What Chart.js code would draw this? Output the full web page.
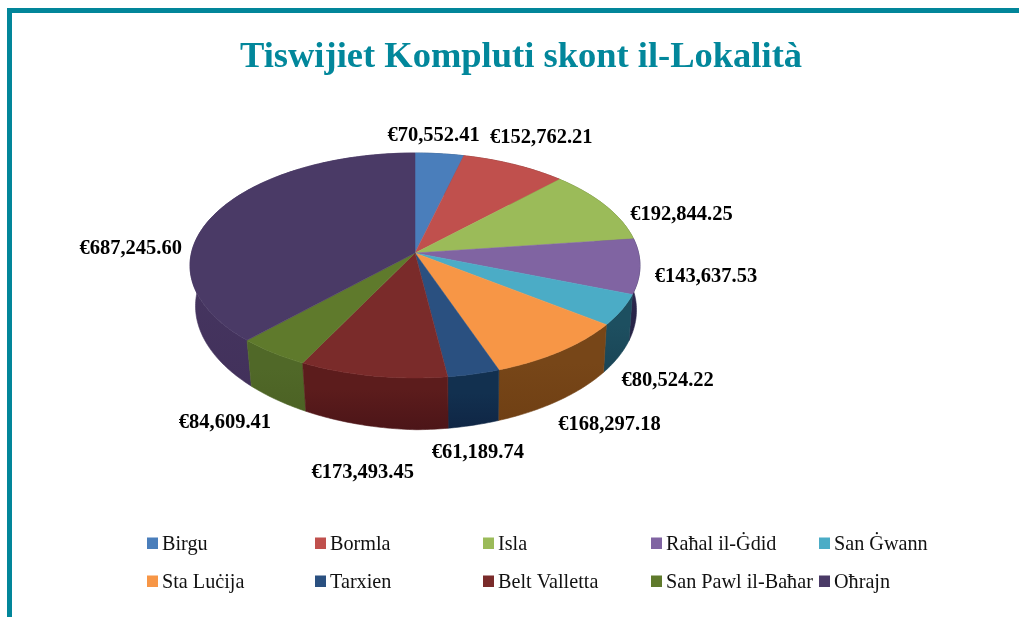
<!DOCTYPE html>
<html><head><meta charset="utf-8">
<style>
html,body{margin:0;padding:0;background:#fff;width:1019px;height:617px;overflow:hidden}
#wrap{position:absolute;left:0;top:0;width:1019px;height:617px;overflow:hidden}
#frame{position:absolute;left:7px;top:8px;right:0;bottom:0;border-top:5px solid #02869a;border-left:5px solid #02869a}
canvas{position:absolute;left:0;top:0}
</style>
<script src="https://cdn.jsdelivr.net/npm/chart.js@4/dist/chart.umd.js"></script>
</head><body>
<div id="wrap"><div id="frame"></div><canvas id="c" width="1042" height="617"></canvas></div>
<script>
const chartTitle = "Tiswijiet Kompluti skont il-Lokalità";
const categories = ["Birgu","Bormla","Isla","Raħal il-Ġdid","San Ġwann","Sta Luċija","Tarxien","Belt Valletta","San Pawl il-Baħar","Oħrajn"];
const values = [70552.41,152762.21,192844.25,143637.53,80524.22,168297.18,61189.74,173493.45,84609.41,687245.60];
const faceColors = ["#4a7ebb","#c0504d","#9bbb59","#8064a2","#4bacc6","#f79646","#2a5080","#7a2b2a","#5f7a2c","#4a3a66"];
const wallTopColors = ["#2c4d75","#772c2a","#5f7530","#2e2a50","#1d4f60","#774618","#12304f","#5c1c1c","#506828","#463661"];
const wallBottomColors = ["#1f3a5c","#5a1a18","#46591f","#262245","#1a4455","#704014","#0f2645","#4c1518","#4c6224","#42315b"];
const legendRows = [[0,1,2,3,4],[5,6,7,8,9]];
const legendColumns = [147,315,483,651,819];
const legendBaselines = [550,588];
const labelNudges = [[-6,-18],[27,-27],[76,9],[66,10],[46,71],[49,73],[4,79],[-10,97],[-48,70],[-85,35]];

const pieCenterX = 415, pieCenterY = 253, tiltY = 111.1, perspective = 0.111, depth = 46, bottomShrink = 0.98, bottomShift = 1;

function proj(arc, theta, lower){
  const X = Math.sin(theta), Y = Math.cos(theta), w = 1 + perspective*Y;
  const sx = arc.outerRadius*X/w*(lower?bottomShrink:1) + (lower?bottomShift:0);
  const sag = X<0 ? -6*X : 2*X;
  const sy = -tiltY*Y/w + (lower?depth/w-sag:0);
  return [pieCenterX+sx, pieCenterY+sy];
}
function angles(arc){ return [arc.startAngle+Math.PI/2, arc.endAngle+Math.PI/2]; }
function rimPoints(arc, lower){
  const [a,b] = angles(arc), n = Math.max(4,Math.ceil((b-a)/0.015)), pts=[];
  for(let i=0;i<=n;i++) pts.push(proj(arc,a+(b-a)*i/n,lower));
  return pts;
}
const pie3d = {
  id:"pie3d",
  beforeDatasetsDraw(chart){
    const ctx = chart.ctx, arcs = chart.getDatasetMeta(0).data;
    const order = arcs.map((a,i)=>i).sort((p,q)=>{
      const m=a=>{const [s,e]=angles(a);return Math.cos((s+e)/2)};
      return m(arcs[q])-m(arcs[p]);
    });
    for(const i of order){
      const arc=arcs[i], top=rimPoints(arc,false), low=rimPoints(arc,true);
      const ys=top.concat(low).map(p=>p[1]);
      const g=ctx.createLinearGradient(0,Math.min(...top.map(p=>p[1])),0,Math.max(...ys));
      g.addColorStop(0,wallTopColors[i]); g.addColorStop(0.4,wallTopColors[i]); g.addColorStop(1,wallBottomColors[i]);
      ctx.beginPath();
      top.forEach((p,k)=>k?ctx.lineTo(p[0],p[1]):ctx.moveTo(p[0],p[1]));
      low.reverse().forEach(p=>ctx.lineTo(p[0],p[1]));
      ctx.closePath(); ctx.fillStyle=g; ctx.strokeStyle=g; ctx.lineWidth=0.6; ctx.fill(); ctx.stroke();
    }
    arcs.forEach((arc,i)=>{
      ctx.beginPath(); ctx.moveTo(pieCenterX,pieCenterY);
      rimPoints(arc,false).forEach(p=>ctx.lineTo(p[0],p[1]));
      ctx.closePath(); ctx.fillStyle=faceColors[i]; ctx.strokeStyle=faceColors[i]; ctx.lineWidth=0.5; ctx.fill(); ctx.stroke();
    });
    return false;
  },
  afterDraw(chart){
    const ctx = chart.ctx, arcs = chart.getDatasetMeta(0).data;
    ctx.save();
    ctx.fillStyle="#000"; ctx.font='bold 20.5px "Liberation Serif"'; ctx.textAlign="center"; ctx.textBaseline="middle";
    arcs.forEach((arc,i)=>{
      const [s,e]=angles(arc), p=proj(arc,(s+e)/2,false);
      const txt="€"+values[i].toLocaleString("en-US",{minimumFractionDigits:2,maximumFractionDigits:2});
      ctx.fillText(txt,p[0]+labelNudges[i][0],p[1]+labelNudges[i][1]);
    });
    ctx.textAlign="left"; ctx.textBaseline="alphabetic"; ctx.font='20.2px "Liberation Serif"';
    legendRows.forEach((row,r)=>row.forEach((idx,c)=>{
      const x=legendColumns[c], base=legendBaselines[r];
      ctx.fillStyle=faceColors[idx]; ctx.fillRect(x,base-12.5,11,11.5);
      ctx.fillStyle="#111"; ctx.fillText(categories[idx],x+15,base);
    }));
    ctx.restore();
  }
};
new Chart(document.getElementById("c"),{
  type:"pie",
  data:{labels:categories,datasets:[{data:values,backgroundColor:faceColors,borderWidth:0}]},
  options:{
    responsive:false,animation:false,
    layout:{padding:{left:0,right:0,top:0,bottom:90}},
    plugins:{
      legend:{display:false},tooltip:{enabled:false},
      title:{display:true,text:chartTitle,color:"#02879b",font:{family:'"Liberation Serif"',size:36.5,weight:"bold",lineHeight:1.2},padding:{top:36,bottom:0}}
    }
  },
  plugins:[pie3d]
});
</script>
</body></html>
